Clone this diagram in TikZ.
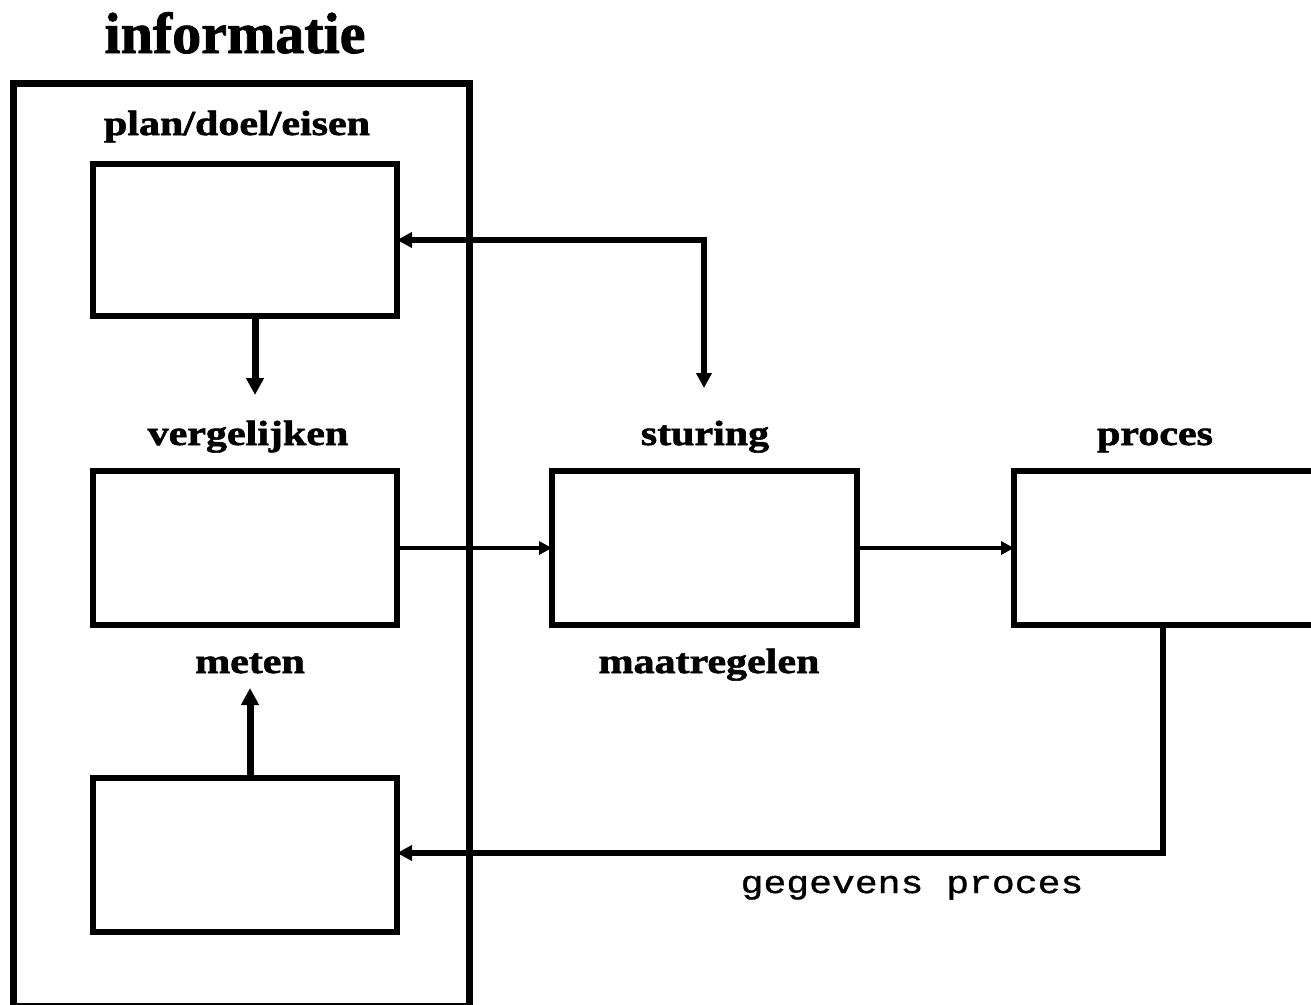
\documentclass[tikz,border=0pt]{standalone}
\usepackage{fontspec}
\setmainfont{Liberation Serif}[BoldFeatures={FakeBold=1.5}]
\setmonofont{Liberation Mono}[FakeBold=1]
\usetikzlibrary{arrows.meta}
\begin{document}
\begin{tikzpicture}[x=1pt,y=-1pt,
  box/.style={draw, line width=6.5pt, inner sep=0pt, outer sep=0pt},
  lbl/.style={anchor=base, inner sep=0pt, font=\fontsize{35}{38}\selectfont\bfseries},
  varrow/.style={line width=7pt, -{Triangle[length=17pt,width=17pt]}},
  harrow/.style={line width=4pt, -{Triangle[length=13pt,width=13pt]}},
  fbline/.style={line width=5.5pt}
]
\useasboundingbox (0,0) rectangle (1311,1004);
% outer information box
\node[box, line width=7pt, minimum width=456pt, minimum height=923pt] (info) at (241,544.5) {};
% inner boxes
\node[box, minimum width=304pt, minimum height=152pt] (b1) at (245,240) {};
\node[box, minimum width=304pt, minimum height=154pt] (b2) at (245,548) {};
\node[box, minimum width=304pt, minimum height=154pt] (b3) at (245,855) {};
\node[box, minimum width=305pt, minimum height=154pt] (st) at (704.5,548) {};
\node[box, minimum width=316pt, minimum height=154pt] (pr) at (1172,548) {};
% labels
\node[anchor=base, inner sep=0pt, font=\fontsize{58}{62}\selectfont\bfseries] (title) at (235,53) {\scalebox{1.0}[1]{informatie}};
\node[lbl] (lplan) at (237,135) {\scalebox{1.2}[1]{plan/doel/eisen}};
\node[lbl] (lverg) at (248,445) {\scalebox{1.2}[1]{vergelijken}};
\node[lbl] (lstur) at (705,445) {\scalebox{1.2}[1]{sturing}};
\node[lbl] (lproc) at (1155,445) {\scalebox{1.2}[1]{proces}};
\node[lbl] (lmeet) at (250,673) {\scalebox{1.2}[1]{meten}};
\node[lbl] (lmaat) at (709,673) {\scalebox{1.2}[1]{maatregelen}};
\node[anchor=base, inner sep=0pt, font=\fontsize{32}{36}\selectfont\ttfamily] (lgeg) at (912,893) {\scalebox{1.19}[1]{gegevens proces}};
% connectors
\draw[varrow] ([xshift=10pt]b1.south) -- ++(0,79);
\draw[varrow] ([xshift=5pt]b3.north) -- ++(0,-90);
\coordinate (sturtip) at (704,388);
\draw[fbline, {Triangle[length=15pt,width=15pt]}-{Triangle[length=15pt,width=15pt]}] (b1.east) -| (sturtip);
\draw[harrow] (b2.east) -- (st.west);
\draw[harrow] (st.east) -- (pr.west);
\draw[fbline, -{Triangle[length=15pt,width=15pt]}] ([xshift=-9pt]pr.south) |- ([yshift=2pt]b3.east);
\end{tikzpicture}
\end{document}
